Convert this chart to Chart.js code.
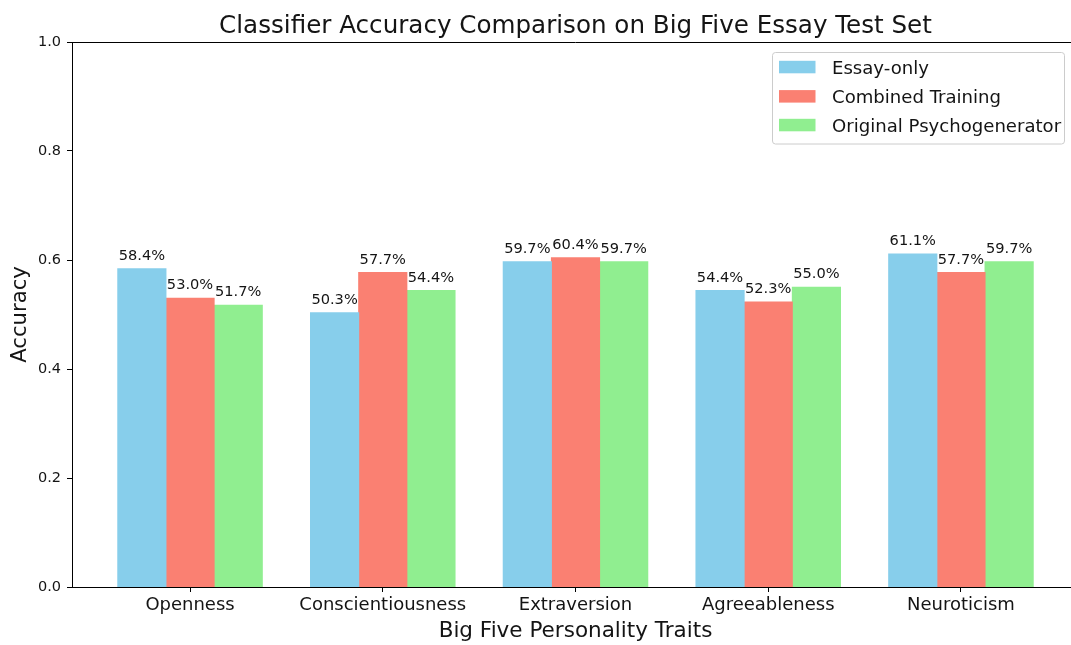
<!DOCTYPE html>
<html><head><meta charset="utf-8">
<script src="https://cdn.jsdelivr.net/npm/chart.js@4.4.1/dist/chart.umd.min.js"></script>
<style>
html,body{margin:0;padding:0;background:#fff;overflow:hidden;width:1071px;height:645px}
#wrap{position:relative;width:1090px;height:645px}
canvas{display:block}
</style></head><body>
<div id="wrap"><canvas id="c" width="1090" height="645"></canvas></div>
<script>
const categories = ['Openness','Conscientiousness','Extraversion','Agreeableness','Neuroticism'];
const seriesNames = ['Essay-only','Combined Training','Original Psychogenerator'];
const essayOnly = [0.584, 0.503, 0.597, 0.544, 0.611];
const combinedTraining = [0.530, 0.577, 0.604, 0.523, 0.577];
const originalPsychogenerator = [0.517, 0.544, 0.597, 0.550, 0.597];
const yTicks = [0.0, 0.2, 0.4, 0.6, 0.8, 1.0];
const titleText = 'Classifier Accuracy Comparison on Big Five Essay Test Set';
const xTitle = 'Big Five Personality Traits';
const yTitle = 'Accuracy';

const seriesValues = [essayOnly, combinedTraining, originalPsychogenerator];
const colors = ['#87CEEB', '#FA8072', '#90EE90'];
const FONT = '"DejaVu Sans", sans-serif';
const TEXT = '#141414';

const datasets = seriesNames.map((name, k) => ({
  label: name,
  data: seriesValues[k].map((v, i) => ({x: i, y: v})),
  backgroundColor: colors[k],
  borderWidth: 0,
  inflateAmount: 0.5,
  categoryPercentage: 0.75,
  barPercentage: 1.0
}));

const overlay = {
  id: 'overlay',
  afterDraw(chart) {
    const ctx = chart.ctx;
    const a = chart.chartArea;
    const ys = chart.scales.y;
    ctx.save();
    // top spine
    ctx.strokeStyle = '#000';
    ctx.lineWidth = 1;
    ctx.beginPath();
    ctx.moveTo(a.left, Math.round(a.top) + 0.5);
    ctx.lineTo(a.right, Math.round(a.top) + 0.5);
    ctx.stroke();
    // title
    ctx.fillStyle = TEXT;
    ctx.font = '24.6px ' + FONT;
    ctx.textAlign = 'center';
    ctx.textBaseline = 'alphabetic';
    ctx.fillText(titleText, (a.left + a.right) / 2, 32.5);
    // bar value labels
    ctx.font = '14.6px ' + FONT;
    chart.data.datasets.forEach((ds, k) => {
      const meta = chart.getDatasetMeta(k);
      meta.data.forEach((el, i) => {
        const v = seriesValues[k][i];
        ctx.fillText((v * 100).toFixed(1) + '%', el.x, ys.getPixelForValue(v + 0.01) - 3.4);
      });
    });
    // legend
    const lx = 772.5, ly = 52.5, lw = 292, lh = 91.5;
    ctx.beginPath();
    ctx.roundRect(lx, ly, lw, lh, 3);
    ctx.fillStyle = 'rgba(255,255,255,0.8)';
    ctx.fill();
    ctx.strokeStyle = '#cccccc';
    ctx.lineWidth = 1;
    ctx.stroke();
    ctx.font = '18.1px ' + FONT;
    ctx.textAlign = 'left';
    const rowsY = [67, 96.3, 125];
    chart.data.datasets.forEach((ds, k) => {
      ctx.fillStyle = ds.backgroundColor;
      ctx.fillRect(779, rowsY[k] - 6.2, 36.5, 12.5);
      ctx.fillStyle = TEXT;
      ctx.fillText(ds.label, 832, rowsY[k] + 6.5);
    });
    ctx.restore();
  }
};

new Chart(document.getElementById('c'), {
  type: 'bar',
  data: { datasets },
  options: {
    responsive: false,
    animation: false,
    devicePixelRatio: 1,
    layout: { padding: { top: 42, right: 11, left: 0, bottom: 0 } },
    plugins: { legend: { display: false }, title: { display: false }, tooltip: { enabled: false } },
    scales: {
      x: {
        type: 'linear',
        offset: false,
        min: -0.6125,
        max: 4.6125,
        afterFit(s) { s.height = 58; },
        afterBuildTicks(s) { s.ticks = categories.map((c, i) => ({ value: i })); },
        ticks: {
          includeBounds: false,
          autoSkip: false,
          maxRotation: 0,
          padding: 3,
          color: TEXT,
          font: { family: FONT, size: 18 },
          callback: (v) => categories[v]
        },
        grid: { offset: false, drawOnChartArea: false, drawTicks: true, tickLength: 5, color: '#000', tickWidth: 1 },
        border: { display: true, color: '#000', width: 1 },
        title: { display: true, text: xTitle, color: TEXT, font: { family: FONT, size: 21.5 }, padding: { top: 0, bottom: 1 } }
      },
      y: {
        min: 0,
        max: 1,
        afterFit(s) { s.width = 72; },
        afterBuildTicks(s) { s.ticks = yTicks.map(v => ({ value: v })); },
        ticks: {
          padding: 6,
          color: TEXT,
          font: { family: FONT, size: 14.5 },
          callback: (v) => Number(v).toFixed(1)
        },
        grid: { drawOnChartArea: false, drawTicks: true, tickLength: 5, color: '#000', tickWidth: 1 },
        border: { display: true, color: '#000', width: 1 },
        title: { display: true, text: yTitle, color: TEXT, font: { family: FONT, size: 21.2 }, padding: { top: 8, bottom: 0 } }
      }
    }
  },
  plugins: [overlay]
});
</script>
</body></html>
